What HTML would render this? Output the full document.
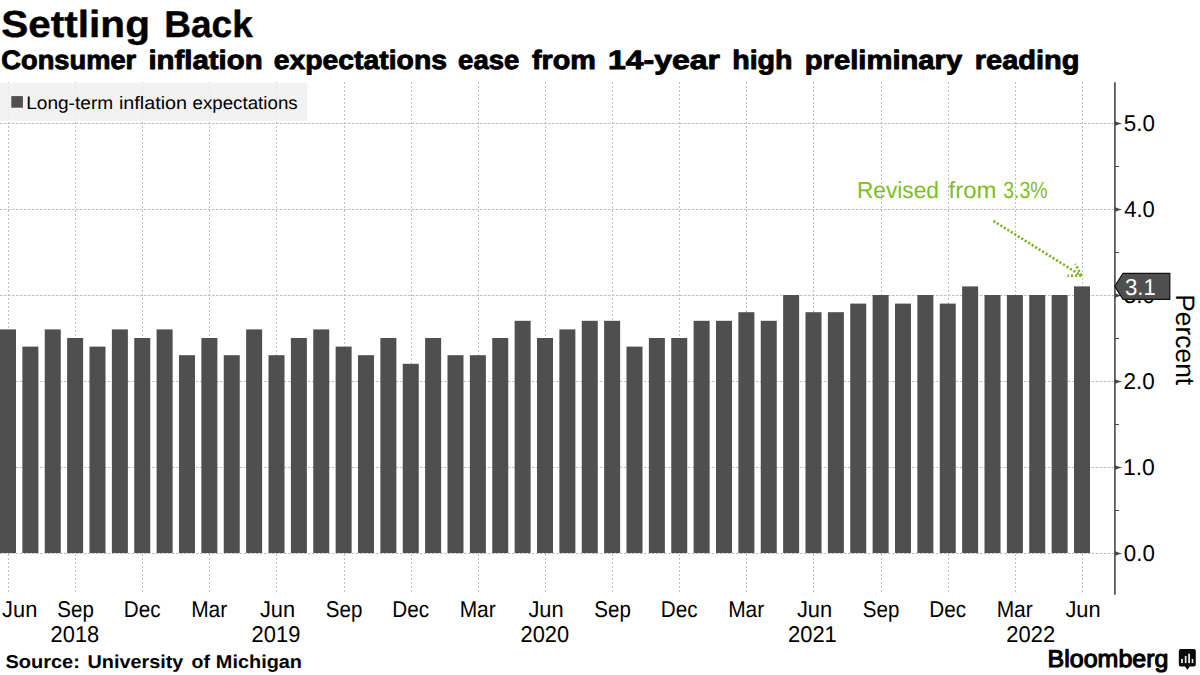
<!DOCTYPE html>
<html><head><meta charset="utf-8"><style>
html,body{margin:0;padding:0;background:#fff;}
svg{display:block;font-family:"Liberation Sans", sans-serif;font-kerning:none;text-rendering:geometricPrecision;}
.g{stroke:#bebebe;stroke-width:1;stroke-dasharray:2.5 1.5;}
.gv{stroke:#bebebe;stroke-width:1;stroke-dasharray:2 2;}
</style></head><body>
<svg width="1200" height="675" viewBox="0 0 1200 675">
<line x1="0" y1="553.5" x2="1114.9" y2="553.5" class="g"/>
<line x1="0" y1="467.5" x2="1114.9" y2="467.5" class="g"/>
<line x1="0" y1="381.5" x2="1114.9" y2="381.5" class="g"/>
<line x1="0" y1="295.5" x2="1114.9" y2="295.5" class="g"/>
<line x1="0" y1="209.5" x2="1114.9" y2="209.5" class="g"/>
<line x1="0" y1="123.5" x2="1114.9" y2="123.5" class="g"/>
<line x1="8.5" y1="82" x2="8.5" y2="594" class="gv"/>
<line x1="75.5" y1="82" x2="75.5" y2="594" class="gv"/>
<line x1="142.5" y1="82" x2="142.5" y2="594" class="gv"/>
<line x1="209.5" y1="82" x2="209.5" y2="594" class="gv"/>
<line x1="276.5" y1="82" x2="276.5" y2="594" class="gv"/>
<line x1="344.5" y1="82" x2="344.5" y2="594" class="gv"/>
<line x1="411.5" y1="82" x2="411.5" y2="594" class="gv"/>
<line x1="478.5" y1="82" x2="478.5" y2="594" class="gv"/>
<line x1="545.5" y1="82" x2="545.5" y2="594" class="gv"/>
<line x1="612.5" y1="82" x2="612.5" y2="594" class="gv"/>
<line x1="679.5" y1="82" x2="679.5" y2="594" class="gv"/>
<line x1="746.5" y1="82" x2="746.5" y2="594" class="gv"/>
<line x1="813.5" y1="82" x2="813.5" y2="594" class="gv"/>
<line x1="881.5" y1="82" x2="881.5" y2="594" class="gv"/>
<line x1="948.5" y1="82" x2="948.5" y2="594" class="gv"/>
<line x1="1015.5" y1="82" x2="1015.5" y2="594" class="gv"/>
<line x1="1082.5" y1="82" x2="1082.5" y2="594" class="gv"/>
<rect x="-3" y="82.8" width="310.2" height="38" rx="2.5" fill="#f0f0f0" fill-opacity="0.88"/>
<rect x="11.3" y="96.1" width="11.6" height="11.6" fill="#4f4f4f"/>
<text x="26.18" y="108.6" font-size="18" textLength="86.97" lengthAdjust="spacingAndGlyphs">Long-term</text>
<text x="118.98" y="108.6" font-size="18" textLength="68.10" lengthAdjust="spacingAndGlyphs">inflation</text>
<text x="192.50" y="108.6" font-size="18" textLength="105.17" lengthAdjust="spacingAndGlyphs">expectations</text>
<rect x="0.000" y="329.40" width="16.0" height="223.60" fill="#4f4f4f"/>
<rect x="22.375" y="346.60" width="16.0" height="206.40" fill="#4f4f4f"/>
<rect x="44.750" y="329.40" width="16.0" height="223.60" fill="#4f4f4f"/>
<rect x="67.125" y="338.00" width="16.0" height="215.00" fill="#4f4f4f"/>
<rect x="89.500" y="346.60" width="16.0" height="206.40" fill="#4f4f4f"/>
<rect x="111.875" y="329.40" width="16.0" height="223.60" fill="#4f4f4f"/>
<rect x="134.250" y="338.00" width="16.0" height="215.00" fill="#4f4f4f"/>
<rect x="156.625" y="329.40" width="16.0" height="223.60" fill="#4f4f4f"/>
<rect x="179.000" y="355.20" width="16.0" height="197.80" fill="#4f4f4f"/>
<rect x="201.375" y="338.00" width="16.0" height="215.00" fill="#4f4f4f"/>
<rect x="223.750" y="355.20" width="16.0" height="197.80" fill="#4f4f4f"/>
<rect x="246.125" y="329.40" width="16.0" height="223.60" fill="#4f4f4f"/>
<rect x="268.500" y="355.20" width="16.0" height="197.80" fill="#4f4f4f"/>
<rect x="290.875" y="338.00" width="16.0" height="215.00" fill="#4f4f4f"/>
<rect x="313.250" y="329.40" width="16.0" height="223.60" fill="#4f4f4f"/>
<rect x="335.625" y="346.60" width="16.0" height="206.40" fill="#4f4f4f"/>
<rect x="358.000" y="355.20" width="16.0" height="197.80" fill="#4f4f4f"/>
<rect x="380.375" y="338.00" width="16.0" height="215.00" fill="#4f4f4f"/>
<rect x="402.750" y="363.80" width="16.0" height="189.20" fill="#4f4f4f"/>
<rect x="425.125" y="338.00" width="16.0" height="215.00" fill="#4f4f4f"/>
<rect x="447.500" y="355.20" width="16.0" height="197.80" fill="#4f4f4f"/>
<rect x="469.875" y="355.20" width="16.0" height="197.80" fill="#4f4f4f"/>
<rect x="492.250" y="338.00" width="16.0" height="215.00" fill="#4f4f4f"/>
<rect x="514.625" y="320.80" width="16.0" height="232.20" fill="#4f4f4f"/>
<rect x="537.000" y="338.00" width="16.0" height="215.00" fill="#4f4f4f"/>
<rect x="559.375" y="329.40" width="16.0" height="223.60" fill="#4f4f4f"/>
<rect x="581.750" y="320.80" width="16.0" height="232.20" fill="#4f4f4f"/>
<rect x="604.125" y="320.80" width="16.0" height="232.20" fill="#4f4f4f"/>
<rect x="626.500" y="346.60" width="16.0" height="206.40" fill="#4f4f4f"/>
<rect x="648.875" y="338.00" width="16.0" height="215.00" fill="#4f4f4f"/>
<rect x="671.250" y="338.00" width="16.0" height="215.00" fill="#4f4f4f"/>
<rect x="693.625" y="320.80" width="16.0" height="232.20" fill="#4f4f4f"/>
<rect x="716.000" y="320.80" width="16.0" height="232.20" fill="#4f4f4f"/>
<rect x="738.375" y="312.20" width="16.0" height="240.80" fill="#4f4f4f"/>
<rect x="760.750" y="320.80" width="16.0" height="232.20" fill="#4f4f4f"/>
<rect x="783.125" y="295.00" width="16.0" height="258.00" fill="#4f4f4f"/>
<rect x="805.500" y="312.20" width="16.0" height="240.80" fill="#4f4f4f"/>
<rect x="827.875" y="312.20" width="16.0" height="240.80" fill="#4f4f4f"/>
<rect x="850.250" y="303.60" width="16.0" height="249.40" fill="#4f4f4f"/>
<rect x="872.625" y="295.00" width="16.0" height="258.00" fill="#4f4f4f"/>
<rect x="895.000" y="303.60" width="16.0" height="249.40" fill="#4f4f4f"/>
<rect x="917.375" y="295.00" width="16.0" height="258.00" fill="#4f4f4f"/>
<rect x="939.750" y="303.60" width="16.0" height="249.40" fill="#4f4f4f"/>
<rect x="962.125" y="286.40" width="16.0" height="266.60" fill="#4f4f4f"/>
<rect x="984.500" y="295.00" width="16.0" height="258.00" fill="#4f4f4f"/>
<rect x="1006.875" y="295.00" width="16.0" height="258.00" fill="#4f4f4f"/>
<rect x="1029.250" y="295.00" width="16.0" height="258.00" fill="#4f4f4f"/>
<rect x="1051.625" y="295.00" width="16.0" height="258.00" fill="#4f4f4f"/>
<rect x="1074.000" y="286.40" width="16.0" height="266.60" fill="#4f4f4f"/>
<line x1="1114.9" y1="82.3" x2="1114.9" y2="594.7" stroke="#474747" stroke-width="1.6"/>
<path d="M1114.9 550.90 Q1118 552.70 1122.2 553.50 Q1118 554.30 1114.9 556.10Z" fill="#474747"/>
<path d="M1114.9 464.90 Q1118 466.70 1122.2 467.50 Q1118 468.30 1114.9 470.10Z" fill="#474747"/>
<path d="M1114.9 378.90 Q1118 380.70 1122.2 381.50 Q1118 382.30 1114.9 384.10Z" fill="#474747"/>
<path d="M1114.9 292.90 Q1118 294.70 1122.2 295.50 Q1118 296.30 1114.9 298.10Z" fill="#474747"/>
<path d="M1114.9 206.90 Q1118 208.70 1122.2 209.50 Q1118 210.30 1114.9 212.10Z" fill="#474747"/>
<path d="M1114.9 120.90 Q1118 122.70 1122.2 123.50 Q1118 124.30 1114.9 126.10Z" fill="#474747"/>
<line x1="1114.9" y1="510.50" x2="1119" y2="510.50" stroke="#474747" stroke-width="1"/>
<line x1="1114.9" y1="424.50" x2="1119" y2="424.50" stroke="#474747" stroke-width="1"/>
<line x1="1114.9" y1="338.50" x2="1119" y2="338.50" stroke="#474747" stroke-width="1"/>
<line x1="1114.9" y1="252.50" x2="1119" y2="252.50" stroke="#474747" stroke-width="1"/>
<line x1="1114.9" y1="166.50" x2="1119" y2="166.50" stroke="#474747" stroke-width="1"/>
<text x="1123.83" y="560.70" font-size="22.8" textLength="31.04" lengthAdjust="spacingAndGlyphs">0.0</text>
<text x="1122.95" y="474.70" font-size="22.8" textLength="31.95" lengthAdjust="spacingAndGlyphs">1.0</text>
<text x="1123.57" y="388.70" font-size="22.8" textLength="31.31" lengthAdjust="spacingAndGlyphs">2.0</text>
<text x="1123.85" y="302.70" font-size="22.8" textLength="31.02" lengthAdjust="spacingAndGlyphs">3.0</text>
<text x="1124.19" y="216.70" font-size="22.8" textLength="30.67" lengthAdjust="spacingAndGlyphs">4.0</text>
<text x="1123.81" y="130.70" font-size="22.8" textLength="31.07" lengthAdjust="spacingAndGlyphs">5.0</text>
<path d="M1114.7 286.2 L1123 273.3 L1169.8 273.3 L1169.8 299.3 L1123 299.3 Z" fill="#4f4f4f" stroke="#111" stroke-width="1.2"/>
<text x="1124.96" y="294.8" font-size="23" fill="#fff" textLength="30.83" lengthAdjust="spacingAndGlyphs">3.1</text>
<text transform="translate(1176 0) rotate(90)" x="294.13" y="0" font-size="26.6" textLength="91.06" lengthAdjust="spacingAndGlyphs">Percent</text>
<text x="856.89" y="197.75" font-size="23.4" fill="#80bd22" textLength="82.08" lengthAdjust="spacingAndGlyphs">Revised</text>
<text x="948.56" y="197.75" font-size="23.4" fill="#80bd22" textLength="47.92" lengthAdjust="spacingAndGlyphs">from</text>
<text x="1003.26" y="197.75" font-size="23.4" fill="#80bd22" textLength="44.33" lengthAdjust="spacingAndGlyphs">3.3%</text>
<g stroke="#79b526" stroke-width="2.6" stroke-dasharray="2.2 1.9" fill="none"><path d="M993.4 220.9 L1081.35 275.6"/><path d="M1081.35 275.6 L1075.3 263.8"/><path d="M1081.35 275.6 L1067.6 275.6"/></g>
<text x="2.06" y="616.8" font-size="22.8" textLength="35.26" lengthAdjust="spacingAndGlyphs">Jun</text>
<text x="57.34" y="616.8" font-size="22.8" textLength="36.49" lengthAdjust="spacingAndGlyphs">Sep</text>
<text x="123.81" y="616.8" font-size="22.8" textLength="36.74" lengthAdjust="spacingAndGlyphs">Dec</text>
<text x="191.16" y="616.8" font-size="22.8" textLength="36.07" lengthAdjust="spacingAndGlyphs">Mar</text>
<text x="259.91" y="616.8" font-size="22.8" textLength="35.26" lengthAdjust="spacingAndGlyphs">Jun</text>
<text x="325.84" y="616.8" font-size="22.8" textLength="36.49" lengthAdjust="spacingAndGlyphs">Sep</text>
<text x="392.31" y="616.8" font-size="22.8" textLength="36.74" lengthAdjust="spacingAndGlyphs">Dec</text>
<text x="459.66" y="616.8" font-size="22.8" textLength="36.07" lengthAdjust="spacingAndGlyphs">Mar</text>
<text x="528.41" y="616.8" font-size="22.8" textLength="35.26" lengthAdjust="spacingAndGlyphs">Jun</text>
<text x="594.34" y="616.8" font-size="22.8" textLength="36.49" lengthAdjust="spacingAndGlyphs">Sep</text>
<text x="660.81" y="616.8" font-size="22.8" textLength="36.74" lengthAdjust="spacingAndGlyphs">Dec</text>
<text x="728.16" y="616.8" font-size="22.8" textLength="36.07" lengthAdjust="spacingAndGlyphs">Mar</text>
<text x="796.91" y="616.8" font-size="22.8" textLength="35.26" lengthAdjust="spacingAndGlyphs">Jun</text>
<text x="862.84" y="616.8" font-size="22.8" textLength="36.49" lengthAdjust="spacingAndGlyphs">Sep</text>
<text x="929.31" y="616.8" font-size="22.8" textLength="36.74" lengthAdjust="spacingAndGlyphs">Dec</text>
<text x="996.66" y="616.8" font-size="22.8" textLength="36.07" lengthAdjust="spacingAndGlyphs">Mar</text>
<text x="1065.41" y="616.8" font-size="22.8" textLength="35.26" lengthAdjust="spacingAndGlyphs">Jun</text>
<text x="50.60" y="641.8" font-size="22.8" textLength="48.65" lengthAdjust="spacingAndGlyphs">2018</text>
<text x="251.60" y="641.8" font-size="22.8" textLength="48.74" lengthAdjust="spacingAndGlyphs">2019</text>
<text x="520.60" y="641.8" font-size="22.8" textLength="48.55" lengthAdjust="spacingAndGlyphs">2020</text>
<text x="788.00" y="641.8" font-size="22.8" textLength="48.77" lengthAdjust="spacingAndGlyphs">2021</text>
<text x="1006.30" y="641.8" font-size="22.8" textLength="48.81" lengthAdjust="spacingAndGlyphs">2022</text>
<text x="1.28" y="37.0" font-size="37.6" font-weight="bold" stroke="#000" stroke-width="0.4" stroke-linejoin="round" textLength="148.63" lengthAdjust="spacingAndGlyphs">Settling</text>
<text x="164.22" y="37.0" font-size="37.6" font-weight="bold" stroke="#000" stroke-width="0.4" stroke-linejoin="round" textLength="88.64" lengthAdjust="spacingAndGlyphs">Back</text>
<text x="1.33" y="68.5" font-size="26.6" font-weight="bold" stroke="#000" stroke-width="0.9" stroke-linejoin="round" textLength="134.88" lengthAdjust="spacingAndGlyphs">Consumer</text>
<text x="148.40" y="68.5" font-size="26.6" font-weight="bold" stroke="#000" stroke-width="0.9" stroke-linejoin="round" textLength="114.22" lengthAdjust="spacingAndGlyphs">inflation</text>
<text x="273.84" y="68.5" font-size="26.6" font-weight="bold" stroke="#000" stroke-width="0.9" stroke-linejoin="round" textLength="173.12" lengthAdjust="spacingAndGlyphs">expectations</text>
<text x="458.13" y="68.5" font-size="26.6" font-weight="bold" stroke="#000" stroke-width="0.9" stroke-linejoin="round" textLength="61.11" lengthAdjust="spacingAndGlyphs">ease</text>
<text x="531.96" y="68.5" font-size="26.6" font-weight="bold" stroke="#000" stroke-width="0.9" stroke-linejoin="round" textLength="63.87" lengthAdjust="spacingAndGlyphs">from</text>
<text x="607.93" y="68.5" font-size="26.6" font-weight="bold" stroke="#000" stroke-width="0.9" stroke-linejoin="round" textLength="112.10" lengthAdjust="spacingAndGlyphs">14-year</text>
<text x="732.20" y="68.5" font-size="26.6" font-weight="bold" stroke="#000" stroke-width="0.9" stroke-linejoin="round" textLength="60.37" lengthAdjust="spacingAndGlyphs">high</text>
<text x="804.78" y="68.5" font-size="26.6" font-weight="bold" stroke="#000" stroke-width="0.9" stroke-linejoin="round" textLength="157.43" lengthAdjust="spacingAndGlyphs">preliminary</text>
<text x="974.79" y="68.5" font-size="26.6" font-weight="bold" stroke="#000" stroke-width="0.9" stroke-linejoin="round" textLength="104.70" lengthAdjust="spacingAndGlyphs">reading</text>
<text x="5.42" y="668" font-size="18.6" font-weight="bold" textLength="74.50" lengthAdjust="spacingAndGlyphs">Source:</text>
<text x="87.51" y="668" font-size="18.6" font-weight="bold" textLength="95.80" lengthAdjust="spacingAndGlyphs">University</text>
<text x="191.64" y="668" font-size="18.6" font-weight="bold" textLength="18.42" lengthAdjust="spacingAndGlyphs">of</text>
<text x="215.87" y="668" font-size="18.6" font-weight="bold" textLength="86.16" lengthAdjust="spacingAndGlyphs">Michigan</text>
<text x="1047.55" y="667" font-size="24.3" textLength="120.86" lengthAdjust="spacingAndGlyphs" stroke="#000" stroke-width="1.1" stroke-linejoin="round">Bloomberg</text>
<path d="M1180.8 649.1 h13 a2 2 0 0 1 2 2 v13.5 a2 2 0 0 1 -2 2 h-4 l-2.4 3.2 l-2.4 -3.2 h-4.2 a2 2 0 0 1 -2 -2 v-13.5 a2 2 0 0 1 2 -2z" fill="#0a0a0a"/>
<g fill="#e8e8e8"><rect x="1181.1" y="658.9" width="1.8" height="4.2"/><rect x="1184.8" y="655.9" width="1.7" height="7.2"/><rect x="1188.2" y="653.7" width="1.8" height="9.4"/><rect x="1191.7" y="658.9" width="1.6" height="4.2"/></g>
</svg>
</body></html>
